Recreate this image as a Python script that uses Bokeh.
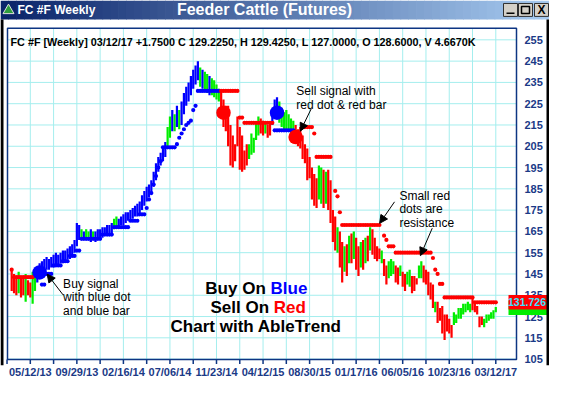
from bokeh.plotting import figure
from bokeh.models import Range1d, FixedTicker, Label, Arrow, NormalHead
from bokeh.embed import file_html
from bokeh.resources import INLINE
from bokeh.core.properties import value

# ---------------- data (weekly bars, week 0 = 05/12/13) ----------------
FIRST_WEEK = -8
HIGH = [
    147, 145, 143, 146, 144, 143, 145, 142, 141, 146,
    147, 148, 150, 151, 152, 153, 152, 153, 154, 155,
    154, 155, 156, 156, 157, 158, 159, 161, 169, 168,
    166, 165, 166, 165, 166, 165, 165, 166, 166, 167,
    167, 168, 168, 169, 171, 172, 171, 172, 173, 174,
    174, 175, 176, 177, 178, 179, 182, 184, 186, 187,
    189, 193, 197, 200, 202, 205, 207, 214, 219, 222,
    220, 224, 222, 226, 230, 233, 235, 238, 241, 243,
    245, 242, 241, 240, 239, 238, 237, 236, 234, 232,
    231, 227, 224, 224, 215, 210, 206, 219, 214, 210,
    203, 206, 206, 211, 209, 216, 219, 218, 217, 216,
    215, 216, 222, 227, 228, 226, 223, 221, 222, 220,
    218, 217, 215, 213, 214, 210, 206, 204, 200, 195,
    192, 190, 196, 195, 194, 193, 194, 189, 175, 172,
    167, 165, 160, 158, 159, 163, 164, 165, 162, 158,
    160, 161, 162, 163, 167, 166, 162, 158, 157, 156,
    152, 149, 151, 152, 151, 149, 148, 149, 146, 145,
    146, 147, 144, 144, 143, 149, 151, 149, 147, 146,
    141, 140, 132, 132, 129, 130, 126, 126, 124, 121,
    127, 126, 129, 129, 131, 131, 132, 131, 134, 131,
    130, 125, 125, 124, 126, 126, 127, 128, 129.425,
]
LOW = [
    137, 136, 135, 136, 134, 135, 132, 135, 134, 131,
    137, 141, 143, 145, 146, 147, 147, 148, 148, 149,
    149, 150, 150, 151, 152, 152, 154, 155, 158, 161,
    161, 161, 162, 161, 160, 161, 160, 161, 162, 162,
    163, 163, 164, 164, 166, 167, 167, 168, 168, 169,
    170, 170, 171, 172, 172, 173, 175, 177, 179, 181,
    183, 186, 189, 193, 196, 198, 200, 204, 209, 212,
    212, 214, 213, 215, 220, 224, 226, 229, 232, 234,
    236, 233, 232, 231, 230, 229, 229, 228, 227, 226,
    219, 214, 212, 205, 196, 195, 198, 205, 194, 193,
    194, 196, 199, 201, 202, 208, 210, 211, 210, 211,
    209, 210, 215, 218, 220, 216, 214, 212, 213, 212,
    211, 212, 208, 205, 204, 199, 197, 189, 190, 180,
    177, 176, 180, 178, 176, 178, 175, 169, 160, 156,
    155, 148, 141, 146, 144, 150, 150, 152, 147, 144,
    148, 147, 150, 151, 156, 154, 152, 151, 152, 150,
    144, 140, 143, 144, 145, 141, 140, 144, 139, 137,
    140, 139, 136, 137, 140, 143, 143, 141, 140, 135,
    133, 129, 127, 122, 123, 117, 114, 118, 117, 115,
    121, 122, 124, 124, 126, 127, 128, 127, 128, 127,
    126, 120, 121, 120, 122, 123, 124, 124, 127,
]
TREND = list(
    "rrrgrrgrrggb" + "b" * 18 + "gbggbg" + "b" * 8 + "gg" + "b" * 21 + "ggbgbg" + "b" * 8
    + "gbggbgggg" + "r" * 12 + "g" * 5 + "rrgrr" + "bbb" + "g" * 7 + "r" * 10 + "ggrgr" + "rrr"
    + "grrgrgrgrrgrgrgrrrrg" + "rrgggrrgrrggrrrggrrrrrg" + "r" * 7 + "g" * 8 + "r" * 5 + "g" * 6
)
WEEKS = list(range(FIRST_WEEK, FIRST_WEEK + len(HIGH)))

# trailing-stop dots: (first week, last week, level, colour)
DOT_RUNS = [
    (-8, -8, 147, "r"), (-7, 1, 143.5, "r"),
    (5, 6, 140, "b"), (7, 9, 145, "b"), (10, 13, 149, "b"), (14, 16, 151, "b"),
    (17, 19, 153.5, "b"), (20, 21, 156, "b"), (22, 30, 161.5, "b"), (31, 35, 163.5, "b"),
    (36, 42, 167, "b"), (43, 46, 170, "b"), (47, 49, 173, "b"), (50, 50, 176, "b"),
    (51, 51, 180, "b"), (52, 52, 183, "b"), (53, 53, 187, "b"), (54, 54, 191, "b"),
    (55, 55, 195, "b"), (56, 56, 198, "b"), (57, 62, 204.5, "b"), (63, 63, 206, "b"),
    (64, 64, 209, "b"), (65, 65, 211, "b"), (66, 66, 213, "b"), (67, 67, 215, "b"),
    (68, 68, 216, "b"), (69, 69, 217, "b"), (70, 70, 222, "b"), (71, 71, 224, "b"),
    (72, 81, 231, "b"), (82, 89, 231, "r"), (90, 91, 218.5, "r"), (92, 104, 216, "r"),
    (105, 113, 212.5, "b"), (118, 121, 214, "r"), (122, 122, 211, "r"), (123, 129, 200, "r"),
    (131, 131, 184, "r"), (132, 132, 181.5, "r"), (133, 133, 174, "r"), (134, 150, 168, "r"),
    (152, 152, 163, "r"), (153, 153, 161, "r"), (154, 156, 158, "r"), (157, 172, 155, "r"),
    (173, 173, 152.5, "r"), (174, 174, 147, "r"), (175, 175, 145, "r"), (176, 177, 140.3, "r"),
    (178, 190, 134, "r"), (191, 200, 131.7, "r"),
]
# big signal dots
SIGNAL_WEEKS = [4, 83, 106, 114]
SIGNAL_PRICES = [145.7, 220.8, 220.8, 209.3]
SIGNAL_KIND = ["b", "r", "b", "r"]

X_TICKS = list(range(-10, 201, 10))
X_LABEL_WEEKS = list(range(0, 201, 20))
X_LABELS = ["05/12/13", "09/29/13", "02/16/14", "07/06/14", "11/23/14", "04/12/15",
            "08/30/15", "01/17/16", "06/05/16", "10/23/16", "03/12/17"]
Y_TICKS = list(range(105, 256, 10))
LAST_PRICE = 131.726
CLOSE_PRICE = 129.225

# ---------------- styles / geometry ----------------
COL = {"b": "#0000ff", "g": "#00ee00", "r": "#ff0000"}
NAVY = "#0d3583"
LABEL_NAVY = "#1b3a87"
GRID = "#a4eeee"
FONT = "Liberation Sans"

FIG_W, FIG_H = 549, 380
BOTTOM_PANEL = 13                  # x-axis label strip
FRAME_B = FIG_H - BOTTOM_PANEL     # frame bottom in canvas pixels
CL, CR, CT, CB = 7, 516, 28, FRAME_B - 6   # chart box in canvas pixels
W_L, W_R = -9.8, 208.9             # chart week range
P_B, P_T = 104.8, 260.4            # chart price range
PPW = (CR - CL) / (W_R - W_L)
PPP = (CB - CT) / (P_T - P_B)


def fx(px):
    return W_L + (px - CL) / PPW


def fy(py):
    return P_T - (py - CT) / PPP


p = figure(width=FIG_W, height=FIG_H, x_range=Range1d(fx(0), fx(FIG_W)),
           y_range=Range1d(fy(FRAME_B), fy(0)), x_axis_location="below", y_axis_location=None,
           output_backend="svg", toolbar_location=None,
           min_border_left=0, min_border_right=0, min_border_top=0,
           min_border_bottom=BOTTOM_PANEL)
p.background_fill_color = "white"
p.border_fill_color = "white"
p.outline_line_color = None
p.grid.visible = False

xa = p.xaxis[0]
xa.ticker = FixedTicker(ticks=X_TICKS)
ov = {w: "" for w in X_TICKS}
ov.update({w: lab for w, lab in zip(X_LABEL_WEEKS, X_LABELS)})
xa.major_label_overrides = ov
xa.axis_line_color = None
xa.major_tick_line_color = None
xa.major_tick_out = 0
xa.major_tick_in = 0
xa.minor_tick_line_color = None
xa.major_label_standoff = 0
xa.major_label_text_font = FONT
xa.major_label_text_font_style = "bold"
xa.major_label_text_font_size = "11px"
xa.major_label_text_color = LABEL_NAVY

# grid inside the chart box
gx = [w for w in X_TICKS if W_L <= w <= W_R]
p.segment(x0=gx, x1=gx, y0=P_B, y1=P_T, line_color=GRID, line_width=1)
p.segment(x0=W_L, x1=W_R, y0=Y_TICKS, y1=Y_TICKS, line_color=GRID, line_width=1)
# x tick marks hanging under the chart box
p.segment(x0=X_TICKS, x1=X_TICKS, y0=P_B, y1=P_B - 4.5 / PPP, line_color=NAVY, line_width=1.5)

# bars
p.vbar(x=WEEKS, bottom=LOW, top=HIGH, width=0.95,
       fill_color=[COL[c] for c in TREND], line_color=None)

# trailing-stop dots
dx, dy, dc = [], [], []
for a, b, lvl, c in DOT_RUNS:
    for w in range(a, b + 1):
        dx.append(w)
        dy.append(lvl)
        dc.append(COL[c])
p.scatter(x=dx, y=dy, size=4.2, fill_color=dc, line_color=None)
p.scatter(x=SIGNAL_WEEKS, y=SIGNAL_PRICES, size=14.5,
          fill_color=[COL[c] for c in SIGNAL_KIND], line_color=None)

# chart box outline
p.quad(left=W_L, right=W_R, bottom=P_B, top=P_T, fill_color=None,
       line_color=NAVY, line_width=1.5)

# y tick labels (right side)
p.text(x=fx(CR + 8), y=Y_TICKS, text=[str(v) for v in Y_TICKS], text_font=value(FONT),
       text_font_style="bold", text_font_size="11px", text_color=LABEL_NAVY,
       text_baseline="middle", text_align="left")

# price tags
half = 3.45
p.quad(left=fx(508), right=fx(FIG_W), bottom=[CLOSE_PRICE - half, LAST_PRICE - half],
       top=[CLOSE_PRICE + half, LAST_PRICE + half], fill_color=["#00ee00", "#ff0000"],
       line_color=None)
p.text(x=fx(526.5), y=[LAST_PRICE], text=["%.3f" % LAST_PRICE], text_font=value(FONT),
       text_font_style="bold", text_font_size="10.5px", text_color="#3de3ff",
       text_baseline="middle", text_align="center")


def lab(x, y, text, size="12px", style="normal", color="black", align="left"):
    p.add_layout(Label(x=x, y=y, text=text, text_font=FONT, text_font_size=size,
                       text_font_style=style, text_color=color, text_align=align,
                       text_baseline="alphabetic"))


lab(-8.5, 254.2, "FC #F [Weekly] 03/12/17  +1.7500 C 129.2250, H 129.4250, L 127.0000, "
    "O 128.6000, V 4.6670K", size="10.8px", style="bold")
lab(14.1, 140.5, "Buy signal")
lab(14.1, 134.2, "with blue dot")
lab(14.1, 127.4, "and blue bar")
lab(114.3, 231.0, "Sell signal with")
lab(114.3, 224.2, "red dot & red bar")
lab(158.6, 181.8, "Small red")
lab(158.6, 175.7, "dots are")
lab(158.6, 169.1, "resistance")
lab(103.2, 138.1, "Buy On ", size="17px", style="bold", align="right")
lab(103.2, 138.1, "Blue", size="17px", style="bold", color="#0000ff")
lab(104.6, 129.4, "Sell On ", size="17px", style="bold", align="right")
lab(104.6, 129.4, "Red", size="17px", style="bold", color="#ff0000")
lab(97.0, 120.5, "Chart with AbleTrend", size="17px", style="bold", align="center")

for xs_, ys_, xe, ye in [(14.07, 135.2, 7.25, 144.9), (120.7, 222.6, 116.0, 212.1),
                         (156.5, 178.9, 150.1, 168.8), (172.7, 166.5, 167.6, 153.6)]:
    p.add_layout(Arrow(end=NormalHead(size=8, fill_color="black", line_color="black"),
                       x_start=xs_, y_start=ys_, x_end=xe, y_end=ye,
                       line_color="black", line_width=1))

# ---------------- window chrome ----------------
TB = 19  # title bar height in px
n = 70
edges = [fx(FIG_W * i / n) for i in range(n + 1)]
c0, c1 = (10, 36, 106), (166, 202, 240)
grad = ["#%02x%02x%02x" % tuple(int(c0[k] + (c1[k] - c0[k]) * i / (n - 1)) for k in range(3))
        for i in range(n)]
p.quad(left=edges[:-1], right=[e + 0.3 for e in edges[1:]], top=fy(0), bottom=fy(TB),
       fill_color=grad, line_color=None)
# black side borders
p.quad(left=[fx(0), fx(FIG_W - 3)], right=[fx(3), fx(FIG_W)], top=fy(TB), bottom=fy(FRAME_B),
       fill_color="black", line_color=None)
# icon + captions
p.scatter(x=[fx(8)], y=[fy(10)], marker="triangle", size=11, fill_color="#2e9e3e",
          line_color="#e0e0e0")
p.text(x=[fx(17)], y=[fy(9.5)], text=["FC #F Weekly"], text_font=value(FONT),
       text_font_style="bold", text_font_size="12px", text_color="white",
       text_baseline="middle")
p.text(x=[fx(264)], y=[fy(9.5)], text=["Feeder Cattle (Futures)"], text_font=value(FONT),
       text_font_style="bold", text_font_size="16px", text_color="white",
       text_baseline="middle", text_align="center")
# window buttons
bl = [503, 518, 534]
p.quad(left=[fx(v) for v in bl], right=[fx(v + 14) for v in bl], top=fy(3), bottom=fy(16),
       fill_color="#d4d0c8", line_color="#303030")
p.quad(left=[fx(506)], right=[fx(514)], top=fy(12), bottom=fy(13.5), fill_color="black",
       line_color=None)
p.quad(left=[fx(521)], right=[fx(529)], top=fy(6), bottom=fy(13), fill_color=None,
       line_color="black", line_width=1.5)
p.text(x=[fx(541)], y=[fy(9.8)], text=["X"], text_font=value(FONT), text_font_style="bold",
       text_font_size="12px", text_color="black", text_align="center", text_baseline="middle")

open("out.html", "w").write(file_html(p, INLINE))
